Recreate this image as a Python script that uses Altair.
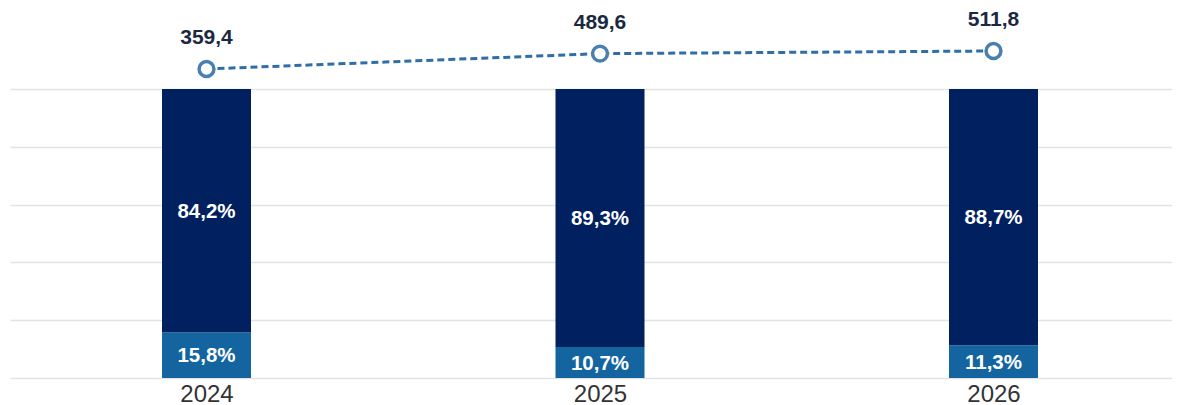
import altair as alt
import pandas as pd

years = [2024, 2025, 2026]
share_dark = [84.2, 89.3, 88.7]
share_light = [15.8, 10.7, 11.3]
totals = [359.4, 489.6, 511.8]

def fmt(v, pct=False):
    s = f"{v:.1f}".replace(".", ",")
    return s + ("%" if pct else "")

rows = []
for y, d, l in zip(years, share_dark, share_light):
    rows.append({"year": y, "seg": "light", "order": 0, "share": l / 100, "label": fmt(l, True)})
    rows.append({"year": y, "seg": "dark", "order": 1, "share": d / 100, "label": fmt(d, True)})
bars_df = pd.DataFrame(rows)
line_df = pd.DataFrame({"year": years, "total": totals, "label": [fmt(t) for t in totals]})

FONT = "Liberation Sans"
W = 1162
H = 370
bar_top_frac = H / 289.0

px_per_year = 393.5
x0 = 2024 - 196.5 / px_per_year
x1 = x0 + W / px_per_year
xscale = alt.Scale(domain=[x0, x1], nice=False, zero=False, padding=0)
x = alt.X("year:Q", scale=xscale,
          axis=alt.Axis(title=None, domain=False, ticks=False, grid=False, values=years, format="d",
                        labelAngle=0, labelFontSize=24, labelFont=FONT, labelColor="#333333",
                        labelPadding=4))

ybar = alt.Scale(domain=[0, bar_top_frac], nice=False, zero=True)

stacked = alt.Chart(bars_df).transform_stack(
    stack="share", as_=["y0", "y1"], groupby=["year"], sort=[alt.SortField("order")]
).transform_calculate(mid="(datum.y0 + datum.y1) / 2")

bars = stacked.mark_bar(size=89).encode(
    x=x,
    y=alt.Y("y0:Q", scale=ybar,
            axis=alt.Axis(title=None, values=[0, 0.2, 0.4, 0.6, 0.8, 1.0], labels=False, ticks=False,
                          domain=False, grid=True, gridColor="#e3e3e3", gridWidth=1.5)),
    y2="y1:Q",
    color=alt.Color("seg:N", scale=alt.Scale(domain=["dark", "light"], range=["#002060", "#13649f"]),
                    legend=None),
)

bar_text = stacked.mark_text(font=FONT, fontSize=20.5, fontWeight="bold", color="white",
                             baseline="middle", dy=1).encode(
    x=x,
    y=alt.Y("mid:Q", scale=ybar),
    text="label:N",
)

k = 0.1181
d0 = 359.4 - (378 - 69) / k
d1 = d0 + H / k
yline = alt.Scale(domain=[d0, d1], nice=False, zero=False)

line = alt.Chart(line_df).mark_line(color="#2f6ea6", strokeWidth=3, strokeDash=[7, 4]).encode(
    x=x, y=alt.Y("total:Q", scale=yline, axis=None)
)
points = alt.Chart(line_df).mark_point(shape="circle", size=220, strokeWidth=3.5, color="#4a80b0",
                                       fill="white", fillOpacity=1, filled=False).encode(
    x=x, y=alt.Y("total:Q", scale=yline, axis=None)
)
line_text = alt.Chart(line_df).mark_text(font=FONT, fontSize=21, fontWeight="bold", color="#1b2940",
                                         dy=-31, baseline="middle").encode(
    x=x, y=alt.Y("total:Q", scale=yline, axis=None), text="label:N"
)

bar_layer = alt.layer(bars, bar_text)
line_layer = alt.layer(line, points, line_text)

chart = alt.layer(bar_layer, line_layer).resolve_scale(y="independent").properties(
    width=W, height=H,
    autosize=alt.AutoSizeParams(type="none"),
    padding={"left": 2, "top": 0, "right": 0, "bottom": 27},
).configure_view(stroke=None)

chart.save("out.html", embed_options={"renderer": "svg", "actions": False})
